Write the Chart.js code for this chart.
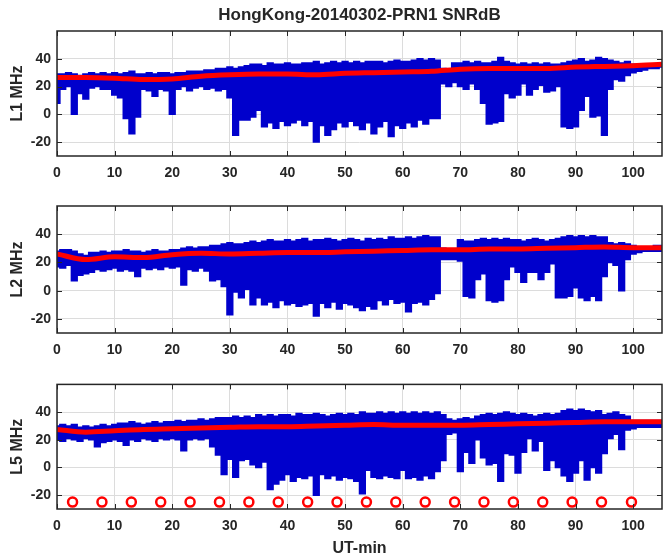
<!DOCTYPE html>
<html>
<head>
<meta charset="utf-8">
<script src="https://cdn.jsdelivr.net/npm/chart.js@4.4.1/dist/chart.umd.min.js"></script>
<style>
  html, body { margin: 0; padding: 0; background: #fff; }
  #wrap { position: relative; width: 663px; height: 558px; }
  canvas { position: absolute; left: 0; }
</style>
</head>
<body>
<div id="wrap">
  <canvas id="c1" width="663" height="190" style="top:0px"></canvas>
  <canvas id="c2" width="663" height="180" style="top:190px"></canvas>
  <canvas id="c3" width="663" height="188" style="top:370px"></canvas>
</div>
<script>
// one sample per minute, 0..105
const minutes = Array.from({ length: 106 }, (_, i) => i);
const xTicks = [0, 10, 20, 30, 40, 50, 60, 70, 80, 90, 100];
const yTicks = [-20, 0, 20, 40];

// upper / lower edge of the blue SNR trace, per minute
const l1Top = [29,29,30,29,28,29,30,29,30,29, 30,29,30,31,29,29,30,29,30,30,
  29,30,30,31,31,31,32,32,33,33, 34,33,34,35,36,36,35,37,36,36,
  37,36,36,37,37,38,36,37,38,37, 38,37,38,37,38,38,38,37,38,39,
  38,38,39,40,39,40,39,33,32,37, 37,38,37,38,37,37,38,41,38,37,
  36,37,36,37,36,37,36,36,37,38, 39,40,38,39,41,40,39,38,37,38,
  36,35,35,36,36,36];
const l1Bot = [8,18,20,0,15,11,19,20,18,18, 14,12,-3,-14,-2,18,17,13,18,17,
  0,18,20,17,19,20,18,19,17,18, 12,-15,-4,-4,-2,3,-9,-6,-10,-5,
  -8,-6,-4,-8,-5,-20,-8,-15,-11,-6, -9,-5,-8,-11,-6,-14,-9,-5,-16,-8,
  -10,-6,-9,-4,-7,-3,-3,22,20,23, 20,18,22,18,8,-7,-6,-5,15,12,
  14,22,14,18,21,16,17,20,-9,-10, -9,3,13,-2,-1,-15,18,25,24,28,
  30,31,32,33,33,34];

const l2Top = [28,29,29,28,26,25,27,27,28,27, 28,28,29,28,28,27,28,29,28,28,
  29,29,30,31,30,31,31,32,32,33, 34,33,33,34,35,34,35,36,35,35,
  36,35,36,37,35,36,36,37,36,35, 36,37,36,35,37,36,37,36,38,37,
  37,38,37,38,39,38,38,30,29,29, 36,35,35,36,37,36,37,36,37,36,
  36,35,36,37,36,35,36,37,38,39, 38,39,38,39,38,38,34,33,34,33,
  32,31,31,31,32,32];
const l2Bot = [17,16,18,7,11,12,13,15,14,15, 16,14,15,14,10,16,15,16,15,17,
  16,17,4,15,14,16,14,7,8,3, -17,-1,-5,1,-10,-5,-10,-8,-12,-7,
  -10,-9,-11,-10,-9,-18,-9,-12,-8,-13, -9,-10,-12,-14,-11,-13,-7,-10,-6,-9,
  -8,-15,-9,-8,-10,-6,-2,22,22,22, 21,-4,-5,8,12,-7,-8,-7,8,17,
  13,6,13,13,8,13,19,-5,-5,-4, 2,-5,-7,-4,-7,10,20,18,0,22,
  26,27,28,28,28,28];

const l5Top = [30,31,30,31,29,30,29,30,31,30, 31,32,32,33,32,31,32,33,32,33,
  33,34,33,34,34,35,34,35,36,36, 36,37,36,37,36,38,37,38,37,38,
  38,37,39,38,38,39,38,37,38,39, 38,39,38,40,39,39,40,39,40,39,
  40,39,40,39,40,39,40,38,35,34, 35,36,35,37,38,39,38,39,40,39,
  38,39,38,37,38,39,38,39,41,42, 41,42,41,40,41,38,39,40,38,37,
  34,34,34,34,34,34];
const l5Bot = [20,19,21,20,19,21,20,15,18,19, 20,19,16,20,19,21,20,19,21,20,
  21,20,12,20,21,20,21,15,9,-5, 6,-7,5,6,2,0,4,-16,-12,-9,
  -5,-10,-7,-8,-6,-20,-5,-8,-6,-9, -7,-8,-10,-19,-2,-7,-8,-6,-7,-8,
  -2,-8,-7,-9,-6,-8,-3,5,24,25, -3,11,3,20,7,2,3,-10,10,9,
  -4,11,21,12,19,-2,5,0,-6,-10, -4,5,-9,0,-4,10,21,24,13,27,
  28,29,29,29,29,29];

// smoothed trend (red), every 5 minutes
const redMin = [0,5,10,15,20,25,30,35,40,45,50,55,60,65,70,75,80,85,90,95,100,105];
const l1Red = [26.5,26.5,26,25,25.5,27.5,28.5,29,29,28.5,29.5,30,30.5,31,32.5,33,33,33,34,34.5,35,36];
const l2Red = [26,22,24,23.5,25.5,26.5,26,26.5,27,27,27.5,28,28.5,29,29,29.5,29.5,30,30.5,31,30.5,30.5];
const l5Red = [27.5,25.5,26.5,27.5,28,28.5,29,29.5,29.5,30,30.5,31,30.5,30.5,30.5,31,31.5,32,32.5,33,33,33];

// red markers on the L5 panel
const markMin = [2.7,7.8,12.9,18.0,23.1,28.2,33.3,38.4,43.5,48.6,53.7,58.8,63.9,69.0,74.1,79.2,84.3,89.4,94.5,99.7];
const markVal = [-25,-25,-25,-25,-25,-25,-25,-25,-25,-25,-25,-25,-25,-25,-25,-25,-25,-25,-25,-25];

const BLUE = '#0000cc';
const RED = '#ff0000';
const TXT = '#262626';
const GRID = '#dcdcdc';
const FONT = "'Liberation Sans', Arial, Helvetica, sans-serif";

// matlab style box with inward ticks
const boxPlugin = {
  id: 'box',
  afterDatasetsDraw(chart) {
    const { ctx, chartArea: a, scales: { x, y } } = chart;
    ctx.save();
    ctx.strokeStyle = TXT;
    ctx.lineWidth = 1;
    ctx.beginPath();
    x.ticks.forEach(t => {
      const px = Math.round(x.getPixelForValue(t.value)) + 0.5;
      ctx.moveTo(px, a.bottom); ctx.lineTo(px, a.bottom - 5);
      ctx.moveTo(px, a.top); ctx.lineTo(px, a.top + 5);
    });
    y.ticks.forEach(t => {
      const py = Math.round(y.getPixelForValue(t.value)) + 0.5;
      ctx.moveTo(a.left, py); ctx.lineTo(a.left + 5, py);
      ctx.moveTo(a.right, py); ctx.lineTo(a.right - 5, py);
    });
    ctx.stroke();
    ctx.lineWidth = 1.5;
    ctx.strokeRect(a.left, a.top, a.right - a.left, a.bottom - a.top);
    ctx.restore();
  }
};

function pts(xs, ys) {
  return xs.map((v, i) => ({ x: v, y: ys[i] }));
}

function makeChart(id, p) {
  const datasets = [
    { data: pts(redMin, p.red), borderColor: RED, borderWidth: 5, pointRadius: 0,
      cubicInterpolationMode: 'monotone', order: 1 },
    { data: pts(minutes, p.top), borderColor: BLUE, backgroundColor: BLUE, borderWidth: 1.5,
      pointRadius: 0, stepped: 'middle', fill: '+1', order: 3 },
    { data: pts(minutes, p.bot), borderColor: BLUE, borderWidth: 1.5, pointRadius: 0,
      stepped: 'middle', fill: false, order: 3 }
  ];
  if (p.marks) {
    datasets.push({ data: pts(markMin, markVal), showLine: false, pointStyle: 'circle',
      pointRadius: 4.5, borderColor: RED, borderWidth: 2.5, backgroundColor: 'rgba(0,0,0,0)', order: 0 });
  }

  const scales = {
    x: {
      type: 'linear', min: 0, max: 105,
      afterBuildTicks: a => { a.ticks = xTicks.map(v => ({ value: v })); },
      afterFit: a => { a.height = p.xHeight; },
      grid: { color: GRID, drawTicks: false },
      border: { display: false },
      ticks: { padding: 9, color: TXT, autoSkip: false, maxRotation: 0,
        font: { family: FONT, size: 14, weight: 'bold' } },
      title: { display: !!p.xTitle, text: p.xTitle || '', color: TXT,
        font: { family: FONT, size: 16, weight: 'bold' }, padding: { top: 0, bottom: 0 } }
    },
    y: {
      min: -30, max: 60,
      afterBuildTicks: a => { a.ticks = yTicks.map(v => ({ value: v })); },
      afterFit: a => { a.width = 57; },
      grid: { color: GRID, drawTicks: false },
      border: { display: false },
      ticks: { padding: 6, color: TXT, font: { family: FONT, size: 14, weight: 'bold' } },
      title: { display: true, text: p.label, color: TXT,
        font: { family: FONT, size: 16, weight: 'bold' }, padding: { top: 8, bottom: 0 } }
    }
  };
  if (p.title) {
    scales.t = {
      type: 'linear', position: 'top', min: 0, max: 105,
      afterFit: a => { a.height = 31; },
      grid: { display: false, drawTicks: false },
      border: { display: false },
      ticks: { display: false },
      title: { display: true, text: p.title, color: TXT,
        font: { family: FONT, size: 17, weight: 'bold' }, padding: { top: 5, bottom: 0 } }
    };
  }

  return new Chart(document.getElementById(id), {
    type: 'line',
    data: { datasets },
    options: {
      responsive: false,
      animation: false,
      layout: { autoPadding: false, padding: { top: p.padTop, right: 1, bottom: 0, left: 0 } },
      plugins: { legend: { display: false }, tooltip: { enabled: false } },
      elements: { line: { tension: 0, borderJoinStyle: 'miter' } },
      scales
    },
    plugins: [boxPlugin]
  });
}

makeChart('c1', { top: l1Top, bot: l1Bot, red: l1Red, label: 'L1 MHz',
  title: 'HongKong-20140302-PRN1 SNRdB', padTop: 0, xHeight: 34 });
makeChart('c2', { top: l2Top, bot: l2Bot, red: l2Red, label: 'L2 MHz',
  padTop: 16, xHeight: 37 });
makeChart('c3', { top: l5Top, bot: l5Bot, red: l5Red, label: 'L5 MHz',
  xTitle: 'UT-min', marks: true, padTop: 13, xHeight: 49 });
</script>
</body>
</html>
